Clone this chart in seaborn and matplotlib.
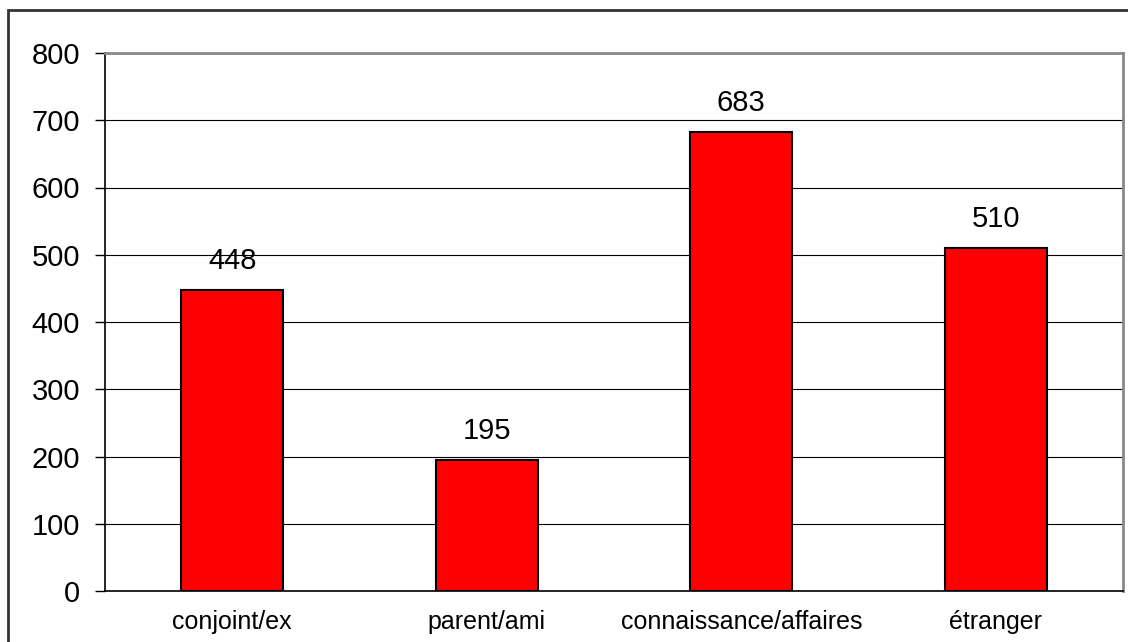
import matplotlib
matplotlib.use("Agg")
import matplotlib.pyplot as plt
import seaborn as sns
import pandas as pd
from matplotlib.patches import Rectangle

categories = ["conjoint/ex", "parent/ami", "connaissance/affaires", "étranger"]
values = [448, 195, 683, 510]
yticks = [0, 100, 200, 300, 400, 500, 600, 700, 800]

sns.set_style("white")
plt.rcParams['font.family'] = ['Liberation Sans', 'DejaVu Sans']
plt.rcParams['text.color'] = 'black'
plt.rcParams['xtick.color'] = 'black'
plt.rcParams['ytick.color'] = 'black'
plt.rcParams['xtick.labelcolor'] = 'black'
plt.rcParams['ytick.labelcolor'] = 'black'

df = pd.DataFrame({"cat": categories, "val": values})

fig = plt.figure(figsize=(11.28, 6.42), dpi=100)
ax = fig.add_axes([105/1128, 51/642, (1123-105)/1128, (591-53)/642])

sns.barplot(data=df, x="cat", y="val", color="#FF0000", saturation=1,
            width=0.4, edgecolor="black", linewidth=1.5, ax=ax, zorder=3)

ax.set_ylim(0, 800)
ax.set_xlim(-0.5, len(categories) - 0.5)
ax.set_yticks(yticks)
ax.set_yticklabels([str(t) for t in yticks], fontsize=21)
ax.yaxis.grid(True, color="black", linewidth=0.8, zorder=0)
ax.set_axisbelow(True)
ax.set_xlabel("")
ax.set_ylabel("")

ax.tick_params(axis="x", which="major", length=0, labelsize=18, pad=13.5)
ax.set_xticks(range(len(categories)))
ax.set_xticklabels(categories)
ax.set_xticks([i - 0.5 for i in range(len(categories) + 1)], minor=True)
ax.tick_params(axis="x", which="minor", length=7, width=1, color="black", direction="out")
ax.tick_params(axis="y", length=7, width=1, color="black", direction="out", left=True, pad=11)

for s in ["left", "bottom"]:
    ax.spines[s].set_color("black")
    ax.spines[s].set_linewidth(1.2)
for s in ["top", "right"]:
    ax.spines[s].set_color("#888888")
    ax.spines[s].set_linewidth(2)
    ax.spines[s].set_visible(True)

for i, v in enumerate(values):
    ax.annotate(str(v), (i, v), xytext=(0, 10.5), textcoords="offset points",
                ha="center", va="bottom", fontsize=21, color="black")

fig.patches.append(Rectangle((8/1128, -0.1), 1.2, 1 - 10/642 + 0.1,
                             transform=fig.transFigure, fill=False,
                             edgecolor="#333333", linewidth=2))

fig.savefig("out.png", dpi=100)
